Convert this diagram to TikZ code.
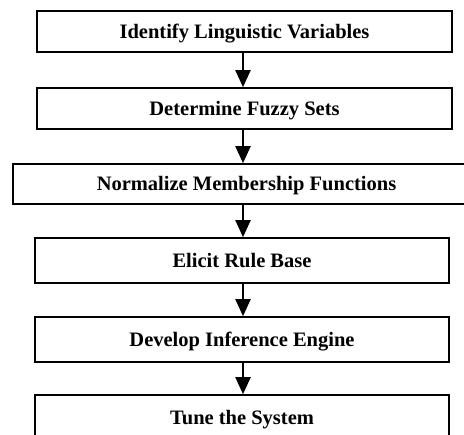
\documentclass[tikz,border=0pt]{standalone}
\usepackage{fontspec}
\setmainfont{Liberation Serif}
\usetikzlibrary{arrows.meta}

\tikzset{
  kasten/.style={draw, line width=1.6pt, inner sep=0pt, minimum height=41pt,
    minimum width=415pt, text height=18.5pt, text depth=4.5pt,
    font=\fontsize{20.5}{24}\selectfont\bfseries},
  pfeil/.style={line width=2pt, -{Triangle[width=15pt,length=17pt]}}
}

\begin{document}
\begin{tikzpicture}[x=1pt, y=-1pt, line join=miter]

  % Bildausschnitt festlegen
  \clip (0,0) rectangle (464,435);

  % Die Schritte als Kaesten
  \node[kasten] (ident) at (244.5,31.5) {Identify Linguistic Variables};
  \node[kasten] (fuzzy) at (244.5,108.5) {Determine Fuzzy Sets};
  \node[kasten, minimum width=467pt, minimum height=40pt] (norm) at (246.5,184) {Normalize Membership Functions};
  \node[kasten, minimum width=414pt, minimum height=45pt] (rules) at (242,260.5) {Elicit Rule Base};
  \node[kasten, minimum width=414pt, minimum height=45pt] (engine) at (242,339.5) {Develop Inference Engine};
  \node[kasten, minimum width=414pt, minimum height=46pt] (tune) at (242,418) {Tune the System};

  % Pfeile zwischen den Kaesten
  \coordinate (mitte) at (243,0);
  \foreach \a/\b in {ident/fuzzy, fuzzy/norm, norm/rules, rules/engine, engine/tune} {
    \draw[pfeil] (\a.south -| mitte) -- (\b.north -| mitte);
  }

\end{tikzpicture}
\end{document}
